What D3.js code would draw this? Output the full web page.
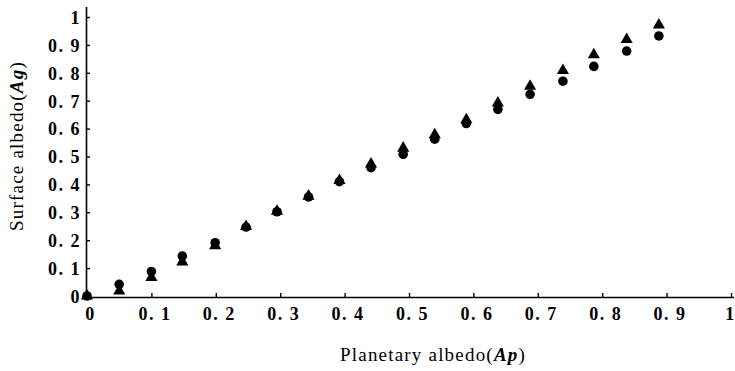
<!DOCTYPE html>
<html><head><meta charset="utf-8">
<script src="https://cdn.jsdelivr.net/npm/d3@7"></script>
<style>
html,body{margin:0;padding:0;background:#fff;}
svg{display:block;}
text{font-family:"Liberation Serif","DejaVu Serif",serif;fill:#000;}
</style></head>
<body>
<svg id="chart" width="735" height="371"></svg>
<script>
const planetaryAlbedo = [0, 0.05, 0.1, 0.148, 0.199, 0.247, 0.295, 0.344, 0.392, 0.441, 0.491, 0.54, 0.589, 0.638, 0.688, 0.739, 0.787, 0.838, 0.888];
const circleAlbedo   = [0, 0.042, 0.088, 0.143, 0.191, 0.247, 0.302, 0.355, 0.41, 0.46, 0.508, 0.562, 0.618, 0.669, 0.723, 0.77, 0.823, 0.878, 0.932];
const triangleAlbedo = [0, 0.018, 0.066, 0.122, 0.18, 0.249, 0.304, 0.358, 0.414, 0.473, 0.53, 0.578, 0.632, 0.692, 0.752, 0.808, 0.865, 0.919, 0.971];
const tickValues = [0, 0.1, 0.2, 0.3, 0.4, 0.5, 0.6, 0.7, 0.8, 0.9, 1];
const tickLabels = ["0", "0. 1", "0. 2", "0. 3", "0. 4", "0. 5", "0. 6", "0. 7", "0. 8", "0. 9", "1"];

const svg = d3.select("#chart");
const x = d3.scaleLinear().domain([0, 1]).range([87, 731]);
const y = d3.scaleLinear().domain([0, 1]).range([296, 17]);

// axes
const xAxis = d3.axisBottom(x).tickValues(tickValues).tickSize(-4).tickSizeOuter(0)
  .tickFormat((d, i) => tickLabels[i]);
const gx = svg.append("g").attr("transform", "translate(0,297)").call(xAxis);
gx.select(".domain").attr("d", "M86,0.5H734").attr("stroke", "#000").attr("stroke-width", 1.6);
gx.selectAll(".tick line").attr("stroke", "#000").attr("stroke-width", 1.4);
gx.selectAll(".tick text").attr("font-size", 18).attr("font-weight", "bold")
  .attr("letter-spacing", 1.5).attr("dy", 0).attr("y", 23)
  .attr("dx", (d, i) => i === tickValues.length - 1 ? -1 : 3)
  .attr("font-family", "Liberation Serif, serif");

const yAxis = d3.axisLeft(y).tickValues(tickValues).tickSize(-4).tickSizeOuter(0)
  .tickFormat((d, i) => tickLabels[i]);
const gy = svg.append("g").attr("transform", "translate(86,0)").call(yAxis);
gy.select(".domain").attr("d", "M0.5,297V7").attr("stroke", "#000").attr("stroke-width", 1.6);
gy.selectAll(".tick line").attr("stroke", "#000").attr("stroke-width", 1.4);
gy.selectAll(".tick text").attr("font-size", 18).attr("font-weight", "bold")
  .attr("letter-spacing", 1.5).attr("x", -5).attr("dy", "0.35em")
  .attr("font-family", "Liberation Serif, serif");
svg.selectAll(".domain").attr("fill", "none");

// markers
const tri = d3.symbol().type(d3.symbolTriangle).size(64);
const circ = d3.symbol().type(d3.symbolCircle).size(72);
svg.append("g").selectAll("path").data(planetaryAlbedo).join("path")
  .attr("d", tri).attr("fill", "#000")
  .attr("transform", (d, i) => `translate(${x(d)},${y(triangleAlbedo[i])})`);
svg.append("g").selectAll("path").data(planetaryAlbedo).join("path")
  .attr("d", circ).attr("fill", "#000")
  .attr("transform", (d, i) => `translate(${x(d)},${y(circleAlbedo[i])})`);

// axis titles
const xt = svg.append("text").attr("x", 433).attr("y", 361).attr("text-anchor", "middle")
  .attr("font-size", 19).attr("letter-spacing", 1.2);
xt.append("tspan").text("Planetary albedo(");
xt.append("tspan").attr("font-style", "italic").attr("font-weight", "bold").text("Ap");
xt.append("tspan").text(")");

const yt = svg.append("text").attr("transform", "translate(23,146) rotate(-90)")
  .attr("text-anchor", "middle").attr("font-size", 19).attr("letter-spacing", 1.2);
yt.append("tspan").text("Surface albedo(");
yt.append("tspan").attr("font-style", "italic").attr("font-weight", "bold").text("Ag");
yt.append("tspan").text(")");
</script>
</body></html>
